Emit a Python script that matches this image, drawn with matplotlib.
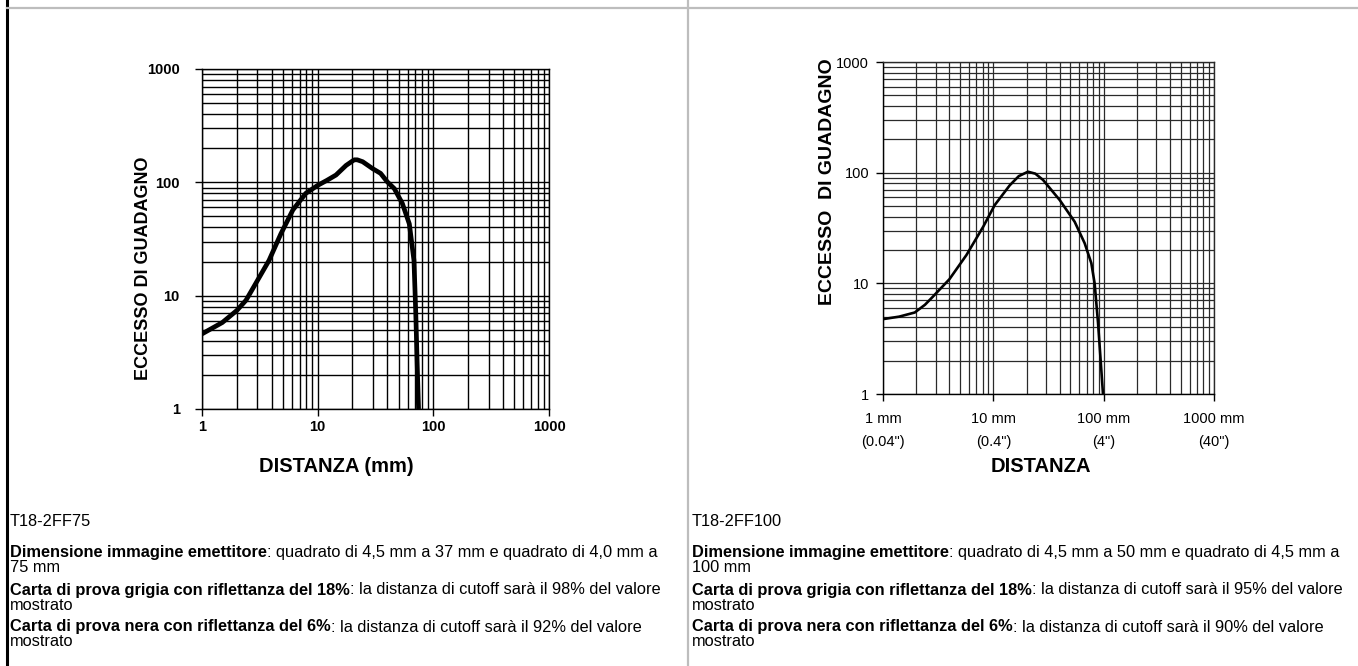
import matplotlib
matplotlib.use("Agg")
from matplotlib import pyplot as plt
from matplotlib.lines import Line2D

plt.rcParams['font.family'] = ['Liberation Sans', 'DejaVu Sans']

# T18-2FF75 (sinistra)
dist_75 = [1, 1.5, 2, 2.4, 2.9, 3.8, 4.8, 6.1, 7.9, 10, 12, 14.4, 17.6, 20.7,
           22, 24.5, 29.9, 35, 40, 46, 54, 62, 68, 70.5, 72.5, 74.5]
gain_75 = [4.6, 5.8, 7.4, 9.1, 12.7, 20.5, 35, 57, 80, 94, 104, 116, 141, 158,
           158, 152, 132, 120, 101, 88, 65, 43, 20.5, 7, 2.5, 1]

# T18-2FF100 (destra)
dist_100 = [1, 1.4, 1.94, 2.4, 2.84, 4.0, 5.7, 8.1, 10.3, 14.1, 17, 20.6, 24,
            28.2, 40, 54.6, 67.3, 77.3, 82.8, 88.9, 98.6]
gain_100 = [4.75, 5.0, 5.45, 6.4, 7.6, 10.9, 18, 32.5, 51, 77, 93, 102, 98,
            86, 56.5, 36, 23, 15.2, 10, 4.4, 1]

ticks = [1, 10, 100, 1000]
left_xlabels = ['1', '10', '100', '1000']
left_ylabels = ['1', '10', '100', '1000']
right_xlabels = ['1 mm\n(0.04")', '10 mm\n(0.4")', '100 mm\n(4")', '1000 mm\n(40")']
right_ylabels = ['1', '10', '100', '1000']

titles = ['T18-2FF75', 'T18-2FF100']
notes = [
    [("Dimensione immagine emettitore", ": quadrato di 4,5 mm a 37 mm e quadrato di 4,0 mm a", "75 mm"),
     ("Carta di prova grigia con riflettanza del 18%", ": la distanza di cutoff sarà il 98% del valore", "mostrato"),
     ("Carta di prova nera con riflettanza del 6%", ": la distanza di cutoff sarà il 92% del valore", "mostrato")],
    [("Dimensione immagine emettitore", ": quadrato di 4,5 mm a 50 mm e quadrato di 4,5 mm a", "100 mm"),
     ("Carta di prova grigia con riflettanza del 18%", ": la distanza di cutoff sarà il 95% del valore", "mostrato"),
     ("Carta di prova nera con riflettanza del 6%", ": la distanza di cutoff sarà il 90% del valore", "mostrato")],
]

W, H = 1358, 666
fig = plt.figure(figsize=(W / 100, H / 100), dpi=100)


def px(x, y):
    return x / W, 1 - y / H


def log_grid(ax, color, lw, pad):
    ax.set_xscale('log')
    ax.set_yscale('log')
    ax.set_xlim(1, 1000)
    ax.set_ylim(1, 1000)
    ax.grid(True, which='both', color=color, linewidth=lw)
    ax.set_axisbelow(True)
    ax.tick_params(which='minor', length=0)
    ax.tick_params(which='major', length=5, width=1, color='black', direction='out',
                   top=False, right=False, pad=pad)
    for s in ax.spines.values():
        s.set_linewidth(1)
        s.set_color(color)
    ax.spines['left'].set_color('black')
    ax.spines['bottom'].set_color('black')


# grafico sinistro
ax1 = fig.add_axes([202 / W, 1 - 409 / H, 347 / W, 340 / H])
log_grid(ax1, 'black', 1.0, 3)
ax1.plot(dist_75, gain_75, color='black', lw=3.4, solid_joinstyle='round', solid_capstyle='butt')
ax1.set_xticks(ticks, left_xlabels, fontsize=10.5, fontweight='bold')
ax1.set_yticks(ticks, left_ylabels, fontsize=10.5, fontweight='bold')
ax1.tick_params(axis='y', pad=11)
ax1.set_xlabel('DISTANZA (mm)', fontsize=14.5, fontweight='bold', va='center')
ax1.xaxis.set_label_coords((336 - 202) / 347, (409 - 466) / 340)
ax1.set_ylabel('ECCESSO DI GUADAGNO', fontsize=13, fontweight='bold', va='center')
ax1.yaxis.set_label_coords((143 - 202) / 347, (409 - 268) / 340)

# grafico destro
ax2 = fig.add_axes([883 / W, 1 - 394 / H, 331 / W, 332 / H])
log_grid(ax2, '#2a2a2a', 0.9, 5)
ax2.plot(dist_100, gain_100, color='black', lw=1.9, solid_joinstyle='round')
ax2.set_xticks(ticks, right_xlabels, fontsize=10.5, linespacing=1.8)
ax2.set_yticks(ticks, right_ylabels, fontsize=10.5)
ax2.tick_params(axis='x', pad=8)
ax2.set_xlabel('DISTANZA', fontsize=14.5, fontweight='bold', va='center')
ax2.xaxis.set_label_coords((1041 - 883) / 331, (394 - 466) / 332)
ax2.set_ylabel('ECCESSO  DI GUADAGNO', fontsize=14, fontweight='bold', va='center')
ax2.yaxis.set_label_coords((827 - 883) / 331, (394 - 182) / 332)

# cornice della tabella
fig.add_artist(Line2D([7 / W, 7 / W], [0, 1], color='black', lw=2.2))
fig.add_artist(Line2D([7 / W, 1], [1 - 8 / H, 1 - 8 / H], color='#bdbdbd', lw=1.6))
fig.add_artist(Line2D([688 / W, 688 / W], [0, 1], color='#bdbdbd', lw=1.6))

# testi sotto i grafici
renderer = fig.canvas.get_renderer()
body = 11.8
for x0, title, rows in zip([10, 692], titles, notes):
    fig.text(*px(x0, 521), title, fontsize=body, fontweight='medium', va='center')
    for (bold, rest, wrap), y in zip(rows, [553, 590, 627]):
        t = fig.text(*px(x0, y), bold, fontsize=body, fontweight='bold', va='center')
        bb = t.get_window_extent(renderer)
        fig.text(bb.x1 / W, 1 - y / H, rest, fontsize=body, va='center')
        fig.text(*px(x0, y + 15), wrap, fontsize=body, va='center')

fig.savefig('out.png', dpi=100)
